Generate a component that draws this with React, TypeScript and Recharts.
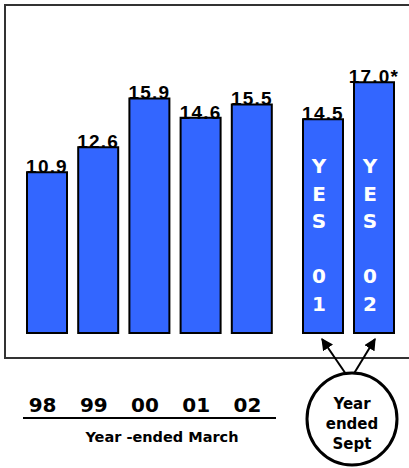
import { BarChart, Bar, XAxis, YAxis, LabelList } from "recharts";

// March year-ends
const marchYears = ["98", "99", "00", "01", "02"];
const marchValues = [10.9, 12.6, 15.9, 14.6, 15.5];

// September year-ends
const septNames = ["YES 01", "YES 02"];
const septValues = [14.5, 17.0];
const septNotes = ["", "*"];

const marchData = marchYears.map((year, i) => ({ year, value: marchValues[i] }));
const septData = septNames.map((name, i) => ({ name, value: septValues[i], note: septNotes[i] }));

const BLUE = "#3366ff";
const LABEL_FONT = "'Liberation Sans', Arial, sans-serif";
const SANS = "'DejaVu Sans', Verdana, sans-serif";

const ValueLabel = (props: any) => {
  const { x, y, width, value, note } = props;
  return (
    <text
      x={x + width / 2}
      y={y + 1}
      textAnchor="middle"
      fontFamily={LABEL_FONT}
      fontWeight="bold"
      fontSize={19}
      letterSpacing={1.2}
      fill="#000"
    >
      {Number(value).toFixed(1)}
      {note ?? ""}
    </text>
  );
};

// stacked white letters running down the bar
const StackedName = (props: any) => {
  const { x, width, value } = props;
  const chars = String(value).split("");
  return (
    <g>
      {chars.map((c: string, i: number) => (
        <text
          key={i}
          x={x + width / 2 - 4}
          y={135 + i * 27.5}
          textAnchor="middle"
          fontFamily={SANS}
          fontWeight="bold"
          fontSize={20}
          fill="#fff"
        >
          {c === " " ? "" : c}
        </text>
      ))}
    </g>
  );
};

const YearTick = (props: any) => {
  const { x, y, payload } = props;
  return (
    <text
      x={x - 4}
      y={y + 79}
      textAnchor="middle"
      fontFamily={SANS}
      fontWeight="bold"
      fontSize={20}
      fill="#000"
    >
      {payload.value}
    </text>
  );
};

export default function App() {
  return (
    <div style={{ position: "absolute", left: 0, top: 0, width: 409, height: 468, overflow: "hidden", background: "#fff" }}>
      <div
        style={{
          position: "absolute",
          left: 4,
          top: 4,
          width: 430,
          height: 351,
          border: "2px solid #333",
        }}
      />
      <div style={{ position: "absolute", left: 21, top: 38 }}>
        <BarChart width={256} height={430} data={marchData} margin={{ top: 0, right: 0, bottom: 0, left: 0 }}>
          <XAxis dataKey="year" axisLine={false} tickLine={false} tickSize={0} tickMargin={0} height={135} tick={<YearTick />} interval={0} />
          <YAxis hide domain={[0, 20]} />
          <Bar dataKey="value" fill={BLUE} stroke="#000" strokeWidth={2} barSize={40} isAnimationActive={false}>
            <LabelList dataKey="value" content={<ValueLabel />} />
          </Bar>
        </BarChart>
      </div>
      <div style={{ position: "absolute", left: 297, top: 38 }}>
        <BarChart width={102} height={430} data={septData} margin={{ top: 0, right: 0, bottom: 0, left: 0 }}>
          <XAxis dataKey="name" axisLine={false} tickLine={false} tick={false} height={135} />
          <YAxis hide domain={[0, 20]} />
          <Bar dataKey="value" fill={BLUE} stroke="#000" strokeWidth={2} barSize={40} isAnimationActive={false}>
            <LabelList
              dataKey="value"
              content={(p: any) => <ValueLabel {...p} note={septData[p.index]?.note} />}
            />
            <LabelList dataKey="name" content={<StackedName />} />
          </Bar>
        </BarChart>
      </div>
      <svg width={409} height={468} style={{ position: "absolute", left: 0, top: 0, pointerEvents: "none" }}>
        <defs>
          <marker id="head" viewBox="0 0 10 10" refX="9" refY="5" markerWidth="6" markerHeight="6" orient="auto">
            <path d="M0,0 L10,5 L0,10 z" fill="#000" />
          </marker>
        </defs>
        <line x1={23} y1={418} x2={276} y2={418} stroke="#000" strokeWidth={2} />
        <text x={162} y={442} textAnchor="middle" fontFamily={SANS} fontWeight="bold" fontSize={14.5} fill="#000">
          Year -ended March
        </text>
        <line x1={350} y1={380} x2={322} y2={339} stroke="#000" strokeWidth={2} markerEnd="url(#head)" />
        <line x1={350} y1={380} x2={375} y2={339} stroke="#000" strokeWidth={2} markerEnd="url(#head)" />
        <ellipse cx={352} cy={419} rx={45} ry={46} fill="#fff" stroke="#000" strokeWidth={3} />
        <g fontFamily={SANS} fontWeight="bold" fontSize={15} textAnchor="middle" fill="#000">
          <text x={352} y={409}>Year</text>
          <text x={352} y={429}>ended</text>
          <text x={352} y={449}>Sept</text>
        </g>
      </svg>
    </div>
  );
}
